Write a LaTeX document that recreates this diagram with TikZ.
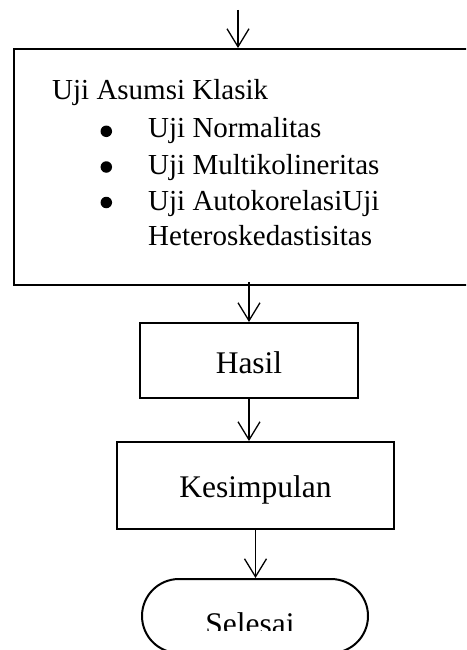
\documentclass[tikz,border=0pt]{standalone}
\usepackage{fontspec}
\setmainfont{Liberation Serif}
\usetikzlibrary{arrows.meta,shapes.misc}
\begin{document}
\begin{tikzpicture}[x=1pt,y=-1pt,
  box/.style={draw, line width=2pt, inner sep=0pt},
  arr/.style={line width=1.3pt, -{Straight Barb[length=18pt,width=22pt,line width=1.3pt]}},
  listtext/.style={anchor=base west, inner sep=0pt, font=\fontsize{29}{36}\selectfont},
  bul/.style={circle, fill=black, minimum size=11.5pt, inner sep=0pt},
  bigtext/.style={font=\fontsize{31.5}{36}\selectfont}
]
\clip (0,0) rectangle (466,650);
\fill[white] (0,0) rectangle (466,650);
% big box
\node[box, anchor=north west, minimum width=480pt, minimum height=236pt] (klasik) at (13,48) {};
\node[listtext] (t0) at (52,100) {Uji Asumsi Klasik};
\node[bul] (b1) at (106.3,131.3) {};
\node[listtext] (t1) at (148,138) {Uji Normalitas};
\node[bul] (b2) at (106.3,167) {};
\node[listtext] (t2) at (148,174) {Uji Multikolineritas};
\node[bul] (b3) at (106.3,202.5) {};
\node[listtext] (t3) at (148,210) {Uji AutokorelasiUji};
\node[listtext] (t4) at (148,245) {Heteroskedastisitas};
% other boxes
\node[box, bigtext, minimum width=218pt, minimum height=75pt, text height=25pt, text depth=0pt] (hasil) at (249,360.5) {Hasil};
\node[box, bigtext, minimum width=277pt, minimum height=87pt, text height=23pt, text depth=0pt] (kes) at (255.5,485.5) {Kesimpulan};
\node[draw, line width=2pt, rounded rectangle, minimum width=226pt, minimum height=74pt, inner sep=0pt] (sel) at (255,616) {};
\begin{scope}
\clip (0,0) rectangle (466,630);
\node[bigtext, anchor=base, inner sep=0pt] (seltxt) at (250,634) {Selesai};
\end{scope}
% connectors
\coordinate (start) at (238,10);
\draw[arr] (start) -- (start |- klasik.north);
\coordinate (s2) at ([yshift=4pt]klasik.south -| hasil.north);
\draw[arr] (s2) -- (hasil.north);
\draw[arr] (hasil.south) -- (hasil.south |- kes.north);
\draw[arr] (kes.south) -- (kes.south |- sel.north);
\end{tikzpicture}
\end{document}
